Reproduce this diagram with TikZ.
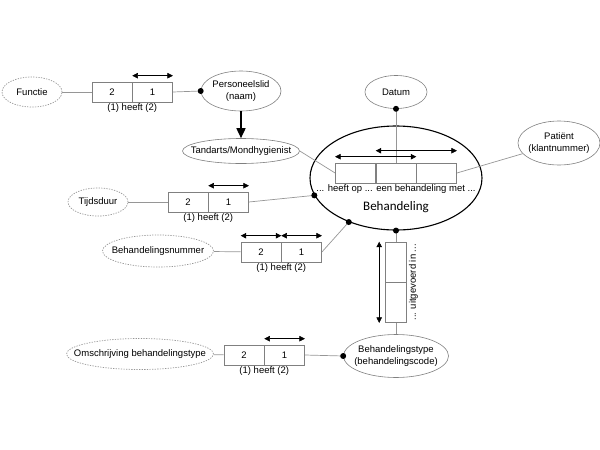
\documentclass[tikz,border=0pt]{standalone}
\usepackage{fontspec}
\setmainfont{Liberation Sans}
\newfontfamily\calibri{Carlito}
\usetikzlibrary{shapes.geometric,arrows.meta,positioning}
\definecolor{LineGray}{RGB}{150,150,150}
\definecolor{EdgeGray}{RGB}{128,128,128}
\tikzset{
  ent/.style={draw=EdgeGray,ellipse,inner xsep=-30pt,inner ysep=0pt,align=center,
              font=\fontsize{9.5}{11.5}\selectfont,line width=0.6pt},
  attr/.style={ent,draw=LineGray,dash pattern=on 1.3pt off 1.3pt,line width=0.7pt},
  cell/.style={draw=EdgeGray,minimum width=40pt,minimum height=20pt,inner sep=0pt,
               font=\fontsize{9.5}{11.5}\selectfont,line width=0.6pt},
  lnk/.style={LineGray,line width=0.7pt},
  uarr/.style={{Triangle[length=5.5pt,width=5.5pt]}-{Triangle[length=5.5pt,width=5.5pt]},line width=0.5pt},
  dot/.style={circle,fill=black,minimum size=6pt,inner sep=0pt},
  rlbl/.style={font=\fontsize{9.5}{11.5}\selectfont,inner sep=1pt},
}
\begin{document}
\begin{tikzpicture}[x=1pt,y=-1pt]
  \useasboundingbox (0,0) rectangle (600,450);

  % Personeelslid en functie
  \node[attr,minimum width=60pt,minimum height=30pt] (functie) at (32,92) {Functie};
  \node[cell] (f2) at (112,92) {2};
  \node[cell,right=0pt of f2] (f1) {1};
  \draw[uarr] ([yshift=6pt]f1.north west) -- ([yshift=6pt]f1.north east);
  \node[rlbl,below=0pt of f2.south east] (flbl) {(1) heeft (2)};
  \node[ent,minimum width=80pt,minimum height=40pt] (pers) at (241,91) {Personeelslid\\(naam)};
  \node[ent,minimum width=117pt,minimum height=25pt] (tand) at (241,151) {Tandarts/Mondhygienist};
  \draw[lnk] (functie) -- (f2);
  \draw[lnk] (f1.east) -- (pers.west) node[dot]{};
  \draw[-{Triangle[length=10pt,width=9pt]},line width=1.6pt] (pers.south) -- (tand.north);

  % Behandeling
  \node[ent,minimum width=62pt,minimum height=33pt] (datum) at (396,92) {Datum};
  \node[ellipse,draw,line width=1.1pt,minimum width=172pt,minimum height=104pt] (beh) at (396,178) {};
  \node[font=\calibri\fontsize{13}{15}\selectfont] (behlbl) at (396,207) {Behandeling};
  \node[cell] (b2) at (396,173) {};
  \node[cell,left=0pt of b2] (b1) {};
  \node[cell,right=0pt of b2] (b3) {};
  \draw[lnk] (datum.south) node[dot]{} -- (b2.north);
  \draw[uarr] ([yshift=6pt]b1.north west) -- ([yshift=6pt]b2.north east);
  \draw[uarr] ([yshift=12pt]b2.north west) -- ([yshift=12pt]b3.north east);
  \node[rlbl,below=0pt of b2] (blbl) {... heeft op ... een behandeling met ...};
  \node[ent,minimum width=82pt,minimum height=44pt] (pat) at (559,143) {Patiënt\\(klantnummer)};
  \draw[lnk] (pat) -- (b3.east);
  \draw[lnk] (tand.east) -- (b1.west);

  % Tijdsduur
  \node[attr,minimum width=60pt,minimum height=28pt] (tijd) at (98,202) {Tijdsduur};
  \node[cell] (t2) at (188,202) {2};
  \node[cell,right=0pt of t2] (t1) {1};
  \draw[uarr] ([yshift=6pt]t1.north west) -- ([yshift=6pt]t1.north east);
  \node[rlbl,below=0pt of t2.south east] (tlbl) {(1) heeft (2)};
  \draw[lnk] (tijd) -- (t2);
  \draw[lnk] (t1.east) -- (beh.192) node[dot]{};

  % Behandelingsnummer
  \node[attr,minimum width=111pt,minimum height=32pt] (bnr) at (158,251) {Behandelingsnummer};
  \node[cell] (n2) at (261,252) {2};
  \node[cell,right=0pt of n2] (n1) {1};
  \draw[uarr] ([yshift=6pt]n2.north west) -- ([yshift=6pt]n2.north east);
  \draw[uarr] ([yshift=6pt]n1.north west) -- ([yshift=6pt]n1.north east);
  \node[rlbl,below=0pt of n2.south east] (nlbl) {(1) heeft (2)};
  \draw[lnk] (bnr) -- (n2);
  \draw[lnk] (n1.east) -- (beh.223) node[dot]{};

  % uitgevoerd in
  \node[cell,minimum width=21pt,minimum height=40pt] (u1) at (396,262) {};
  \node[cell,minimum width=21pt,minimum height=40pt,below=0pt of u1] (u2) {};
  \draw[uarr] ([xshift=-6pt]u1.north west) -- ([xshift=-6pt]u2.south west);
  \node[rlbl,rotate=90,anchor=north] (ulbl) at ([xshift=1pt]u1.south east) {... uitgevoerd in ...};
  \node[ent,minimum width=105pt,minimum height=43pt] (btype) at (396,356) {Behandelingstype\\(behandelingscode)};
  \draw[lnk] (beh.270) node[dot]{} -- (u1.north);
  \draw[lnk] (u2.south) -- (btype);

  % Omschrijving behandelingstype
  \node[attr,minimum width=147pt,minimum height=31pt] (omschr) at (140,354) {Omschrijving behandelingstype};
  \node[cell] (o2) at (244,355) {2};
  \node[cell,right=0pt of o2] (o1) {1};
  \draw[uarr] ([yshift=6pt]o1.north west) -- ([yshift=6pt]o1.north east);
  \node[rlbl,below=0pt of o2.south east] (olbl) {(1) heeft (2)};
  \draw[lnk] (omschr) -- (o2);
  \draw[lnk] (o1.east) -- (btype.west) node[dot]{};
\end{tikzpicture}
\end{document}
